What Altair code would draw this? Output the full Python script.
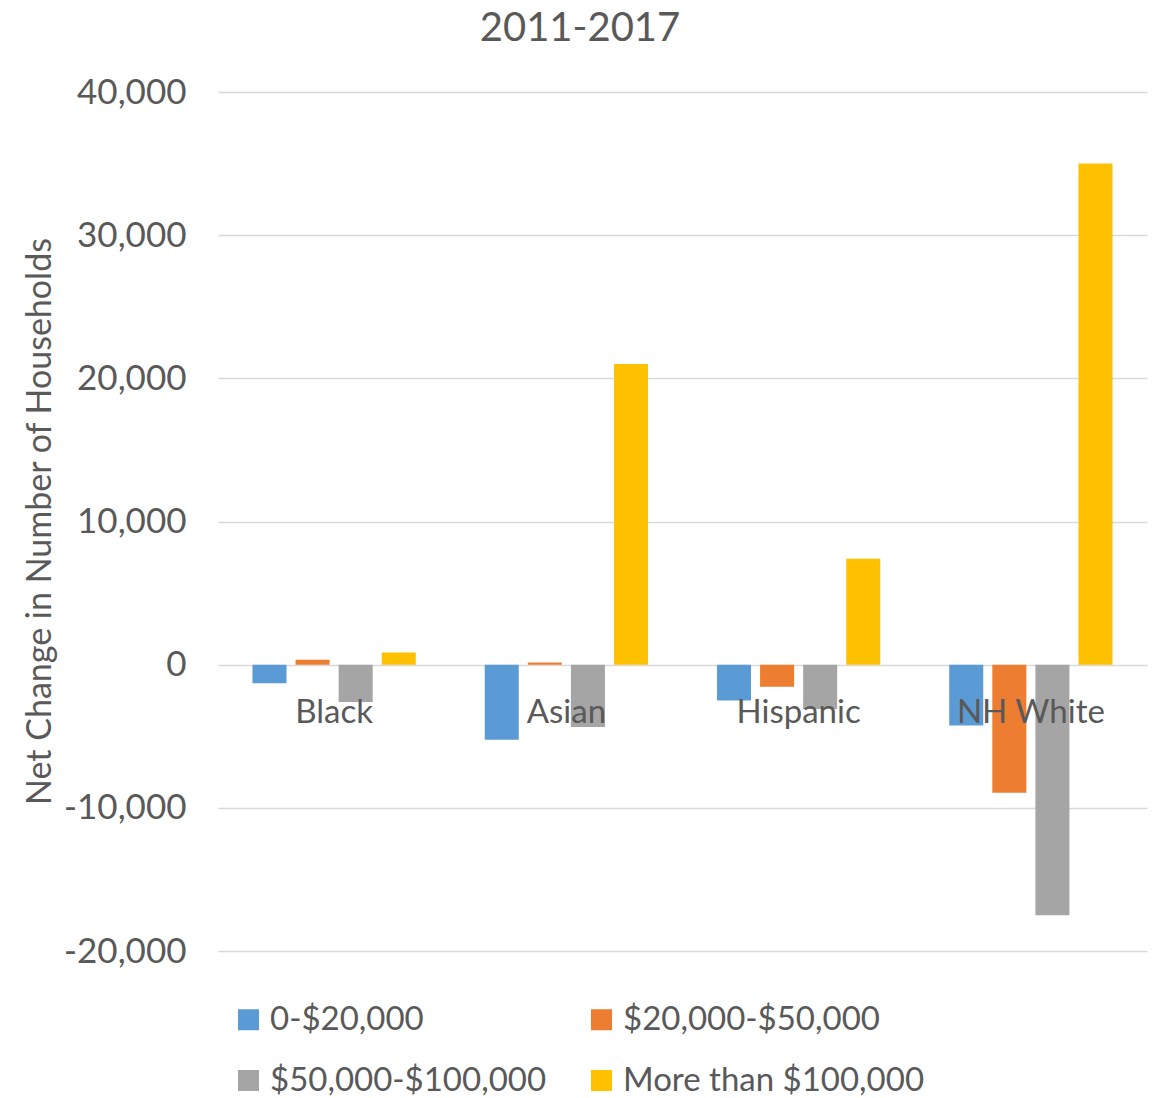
import altair as alt
import pandas as pd

title_text = "2011-2017"
categories = ["Black", "Asian", "Hispanic", "NH White"]
series = ["0-$20,000", "$20,000-$50,000", "$50,000-$100,000", "More than $100,000"]
colors = ["#5B9BD5", "#ED7D31", "#A5A5A5", "#FFC000"]
values = {
    "0-$20,000": [-1300, -5250, -2500, -4250],
    "$20,000-$50,000": [350, 150, -1550, -8950],
    "$50,000-$100,000": [-2600, -4350, -3100, -17500],
    "More than $100,000": [850, 21000, 7400, 35000],
}
y_ticks = [-20000, -10000, 0, 10000, 20000, 30000, 40000]

rows = []
for s in series:
    for c, v in zip(categories, values[s]):
        rows.append({"Group": c, "Income": s, "Value": v})
df = pd.DataFrame(rows)
lab = pd.DataFrame({"Group": categories, "Value": [0] * len(categories)})
ttl = pd.DataFrame({"t": [title_text]})

FONT = "Lato"
GREY = "#595959"

x = alt.X("Group:N", sort=categories, scale=alt.Scale(paddingInner=0, paddingOuter=0), axis=None)
yscale = alt.Scale(domain=[-20000, 40000], nice=False, zero=False)

bars = alt.Chart(df).mark_bar().encode(
    x=x,
    xOffset=alt.XOffset("Income:N", sort=series, scale=alt.Scale(paddingInner=0.21, paddingOuter=0.8)),
    y=alt.Y("Value:Q", scale=yscale,
            axis=alt.Axis(values=y_ticks, format=",d", title="Net Change in Number of Households",
                          labelExpr="replace(datum.label, '\u2212', '-')",
                          domain=False, ticks=False, labelFontSize=35, labelColor=GREY, labelFont=FONT,
                          labelPadding=32, gridColor="#d9d9d9", gridWidth=1.5,
                          titleFontSize=34, titleFont=FONT, titleColor=GREY, titleFontWeight="normal",
                          titleX=-178, titleY=429, titleBaseline="middle", titleAlign="center", titleAngle=-90)),
    color=alt.Color("Income:N", sort=series, scale=alt.Scale(domain=series, range=colors),
                    legend=alt.Legend(title=None, orient="none", legendX=14, legendY=911, columns=2,
                                      direction="horizontal", labelLimit=0,
                                      symbolType="square", symbolSize=441, symbolStrokeWidth=0,
                                      labelFontSize=33, labelFont=FONT, labelColor=GREY,
                                      columnPadding=38, rowPadding=27, labelOffset=5)),
)

labels = alt.Chart(lab).mark_text(fontSize=33, font=FONT, color=GREY, dy=48, baseline="middle").encode(
    x=x,
    y=alt.Y("Value:Q", scale=yscale),
    text="Group:N",
)

title = alt.Chart(ttl).mark_text(fontSize=40, font=FONT, color=GREY, baseline="middle", align="center").encode(
    x=alt.value(362), y=alt.value(-63), text="t:N"
)

chart = alt.layer(bars, labels, title).properties(
    width=929, height=859,
    autosize=alt.AutoSizeParams(type="none"),
    padding={"left": 210, "top": 84, "right": 8, "bottom": 150},
).configure_view(stroke=None)

chart.save("out.html", embed_options={"renderer": "svg", "actions": False})
